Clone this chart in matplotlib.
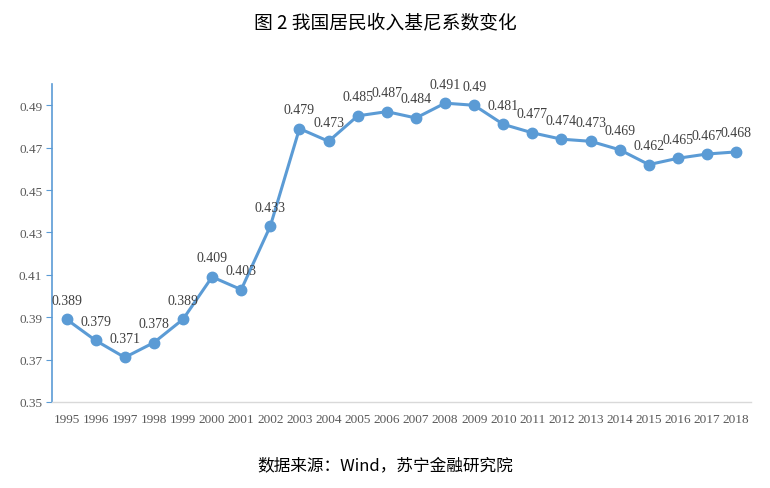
import matplotlib.pyplot as plt

years = [str(y) for y in range(1995, 2019)]
gini = [0.389, 0.379, 0.371, 0.378, 0.389, 0.409, 0.403, 0.433, 0.479, 0.473,
        0.485, 0.487, 0.484, 0.491, 0.49, 0.481, 0.477, 0.474, 0.473, 0.469,
        0.462, 0.465, 0.467, 0.468]
labels = ["0.389", "0.379", "0.371", "0.378", "0.389", "0.409", "0.403", "0.433",
          "0.479", "0.473", "0.485", "0.487", "0.484", "0.491", "0.49", "0.481",
          "0.477", "0.474", "0.473", "0.469", "0.462", "0.465", "0.467", "0.468"]
yticks = [0.35, 0.37, 0.39, 0.41, 0.43, 0.45, 0.47, 0.49]

blue = "#5B9BD5"
grey = "#595959"
cjk = ["Noto Sans CJK SC", "DejaVu Sans"]
serif = "Liberation Serif"

fig = plt.figure(figsize=(7.7, 4.89), dpi=100)
ax = fig.add_axes([0.0675, 0.176, 0.9075, 0.65])

x = list(range(len(years)))
ax.plot(x, gini, color=blue, lw=2.2, marker="o", ms=7.5, zorder=3)
for xi, v, t in zip(x, gini, labels):
    ax.annotate(t, (xi, v), xytext=(0, 9), textcoords="offset points",
                ha="center", va="bottom", fontsize=10, family=serif, color="#404040")

ax.set_xlim(-0.5, len(years) - 0.5)
ax.set_ylim(0.35, 0.50)
ax.set_yticks(yticks)
ax.set_yticklabels(["%.2f" % t for t in yticks], family=serif, fontsize=9.5, color=grey)
ax.set_xticks(x)
ax.set_xticklabels(years, family=serif, fontsize=9.5, color=grey)
ax.tick_params(axis="x", length=0, pad=8)
ax.tick_params(axis="y", length=4, color=blue, direction="out", pad=3)

for s in ["top", "right"]:
    ax.spines[s].set_visible(False)
ax.spines["left"].set_color(blue)
ax.spines["left"].set_linewidth(1.2)
ax.spines["bottom"].set_color("#D9D9D9")
ax.spines["bottom"].set_linewidth(1.0)

fig.text(0.5, 0.952, "图 2 我国居民收入基尼系数变化", ha="center", va="center",
         fontsize=13.5, family=cjk)
fig.text(0.5, 0.047, "数据来源：Wind，苏宁金融研究院", ha="center", va="center",
         fontsize=12, family=cjk)

fig.savefig("out.png", dpi=100)
